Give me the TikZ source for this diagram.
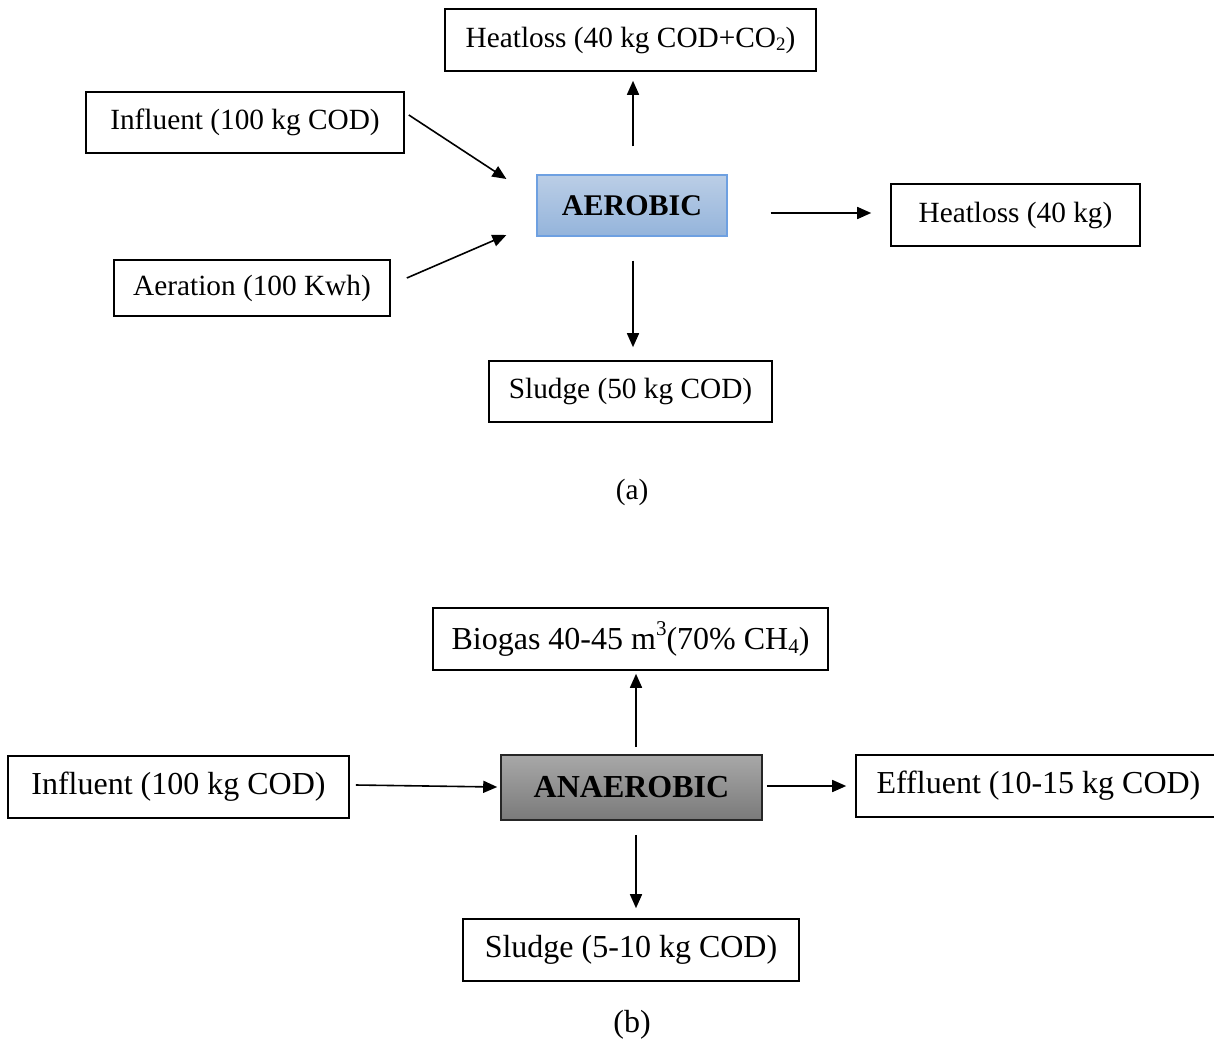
\documentclass[tikz,border=0pt]{standalone}
\usepackage{fontspec}
\setmainfont{Liberation Serif}
\usetikzlibrary{arrows.meta}
\newcommand\sbs[1]{\raisebox{-0.12em}{\fontsize{19}{19}\selectfont #1}}
\newcommand\sbsb[1]{\raisebox{-0.12em}{\fontsize{21}{21}\selectfont #1}}
\newcommand\spsb[1]{\raisebox{0.42em}{\fontsize{21}{21}\selectfont #1}}
\definecolor{aerTop}{RGB}{187,206,230}
\definecolor{aerBot}{RGB}{148,180,219}
\definecolor{aerLine}{RGB}{110,160,225}
\definecolor{anaTop}{RGB}{168,168,168}
\definecolor{anaBot}{RGB}{122,122,122}
\tikzset{
  every node/.style={font=\fontsize{29.3}{34}\selectfont, inner sep=0pt},
  bfont/.style={font=\fontsize{32}{36}\selectfont},
  box/.style={draw=black, line width=1.6pt, fill=white, align=center},
  aerbox/.style={draw=aerLine, line width=1.2pt, top color=aerTop, bottom color=aerBot, font=\fontsize{30}{34}\selectfont\bfseries},
  anabox/.style={draw=black!85, line width=1.6pt, top color=anaTop, bottom color=anaBot, font=\fontsize{32}{36}\selectfont\bfseries},
  flow/.style={line width=1.6pt, -{Triangle[length=14pt,width=12pt]}},
}
\begin{document}
\begin{tikzpicture}[x=1pt,y=-1pt]
\useasboundingbox (0,0) rectangle (1214,1041);
\clip (0,0) rectangle (1214,1041);
% (a)
\node[box, minimum width=371pt, minimum height=62pt] (heat1) at (630.5,40) {Heatloss (40 kg COD+CO\sbs{2})};
\node[box, minimum width=318pt, minimum height=61pt] (infa) at (245,122.5) {Influent (100 kg COD)};
\node[aerbox, minimum width=190pt, minimum height=61pt] (aer) at (632,205.5) {AEROBIC};
\node[box, minimum width=249pt, minimum height=62pt] (heat2) at (1015.5,215) {Heatloss (40 kg)};
\node[box, minimum width=276pt, minimum height=56pt] (aera) at (252,288) {Aeration (100 Kwh)};
\node[box, minimum width=283pt, minimum height=61pt] (sluda) at (630.5,391.5) {Sludge (50 kg COD)};
\node (capa) at (632,492) {(a)};
\draw[flow] ([shift={(4,-7.5)}]infa.east) -- ([shift={(-30,-26.5)}]aer.west);
\draw[flow] ([shift={(16,-10)}]aera.east) -- ([shift={(-30,29.5)}]aer.west);
\draw[flow] ([shift={(1,-28)}]aer.north) -- ([shift={(2.5,9)}]heat1.south);
\draw[flow] ([shift={(43,7.5)}]aer.east) -- ([shift={(-19,-2)}]heat2.west);
\draw[flow] ([shift={(1,24)}]aer.south) -- ([shift={(2.5,-13)}]sluda.north);
% (b)
\node[box, bfont, minimum width=395pt, minimum height=62pt] (bio) at (630.5,639) {Biogas 40-45 m\spsb{3}(70\% CH\sbsb{4})};
\node[box, bfont, minimum width=341pt, minimum height=62pt] (infb) at (178.5,787) {Influent (100 kg COD)};
\node[anabox, minimum width=261pt, minimum height=65pt] (ana) at (631.5,787.5) {ANAEROBIC};
\node[box, bfont, minimum width=365pt, minimum height=62pt] (eff) at (1038.5,786) {Effluent (10-15 kg COD)};
\node[box, bfont, minimum width=336pt, minimum height=62pt] (sludb) at (631,950) {Sludge (5-10 kg COD)};
\node[bfont] (capb) at (632,1025) {(b)};
\draw[flow] ([shift={(4.5,-7)}]ana.north) -- ([shift={(5.5,3)}]bio.south);
\draw[flow] ([shift={(6,-2)}]infb.east) -- ([shift={(-3,-0.5)}]ana.west);
\draw[flow] ([shift={(4,-1.5)}]ana.east) -- ([shift={(-9,0)}]eff.west);
\draw[flow] ([shift={(4.5,14)}]ana.south) -- ([shift={(5,-10)}]sludb.north);
\end{tikzpicture}
\end{document}
